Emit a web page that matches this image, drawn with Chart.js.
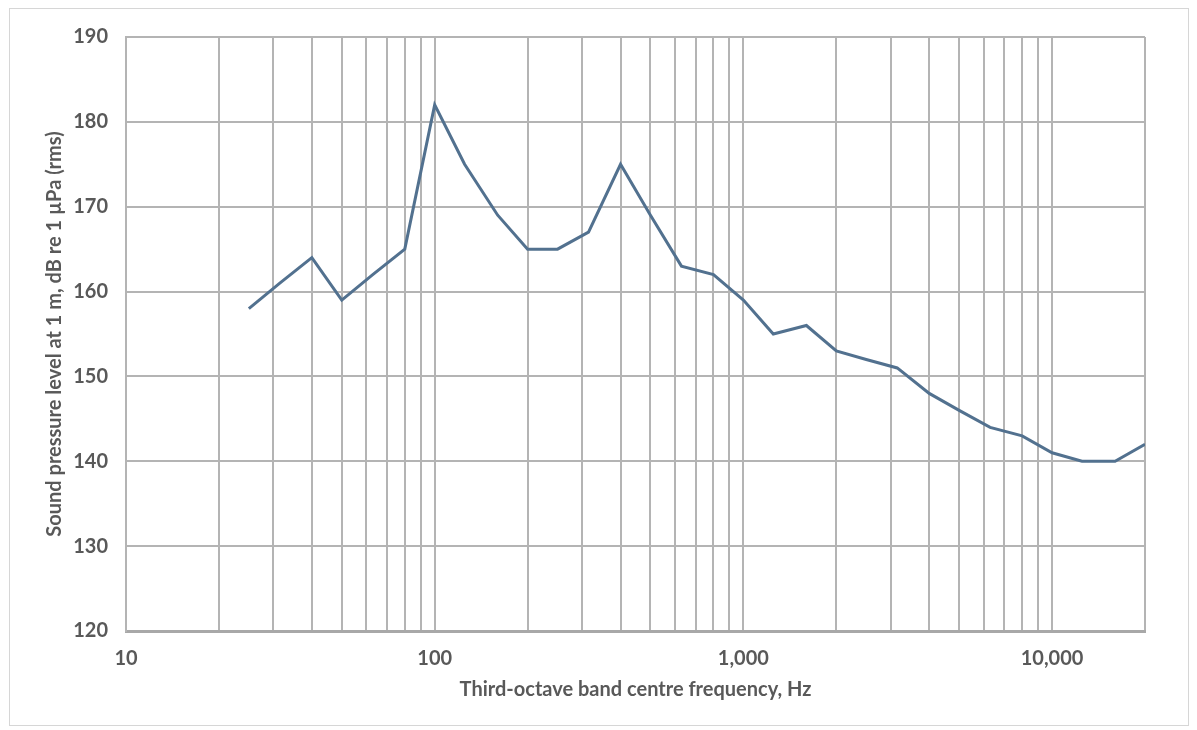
<!DOCTYPE html>
<html><head><meta charset="utf-8">
<script src="https://cdn.jsdelivr.net/npm/chart.js@4/dist/chart.umd.min.js"></script>
<style>
html,body{margin:0;padding:0;background:#fff;}
#wrap{position:relative;width:1197px;height:730px;}
#frame{position:absolute;left:9px;top:8px;width:1180px;height:718px;border:1px solid #d6d6d6;box-sizing:border-box;}
canvas{position:absolute;left:0;top:0;}
</style></head>
<body><div id="wrap"><div id="frame"></div><canvas id="c" width="1197" height="730"></canvas></div>
<script>
const frequencies = [25,31.5,40,50,63,80,100,125,160,200,250,315,400,500,630,800,1000,1250,1600,2000,2500,3150,4000,5000,6300,8000,10000,12500,16000,20000];
const splValues   = [158,161,164,159,162,165,182,175,169,165,165,167,175,169,163,162,159,155,156,153,152,151,148,146,144,143,141,140,140,142];
const xGridValues = [10,20,30,40,50,60,70,80,90,100,200,300,400,500,600,700,800,900,1000,2000,3000,4000,5000,6000,7000,8000,9000,10000,20000];
const xTickLabels = {10:'10',100:'100',1000:'1,000',10000:'10,000'};
const yTickValues = [120,130,140,150,160,170,180,190];

const gridColor = '#b4b4b4';
const textColor = '#595959';
const fontFam = 'Lato, "Open Sans", sans-serif';

new Chart(document.getElementById('c'), {
  type: 'line',
  data: {
    datasets: [{
      data: frequencies.map((f,i)=>({x:f,y:splValues[i]})),
      borderColor: '#52718f',
      borderWidth: 3,
      pointRadius: 0,
      tension: 0,
      fill: false
    }]
  },
  options: {
    responsive: false,
    animation: false,
    devicePixelRatio: 1,
    layout: {padding: {left: 0, top: 37, right: 52, bottom: 0}},
    plugins: {legend: {display: false}, tooltip: {enabled: false}},
    scales: {
      x: {
        type: 'logarithmic',
        min: 10, max: 20000,
        afterBuildTicks: s => { s.ticks = xGridValues.map(v => ({value: v})); },
        afterFit: s => { s.height = 99; },
        grid: {color: gridColor, lineWidth: 2, drawTicks: false},
        border: {color: '#a8a8a8', width: 3},
        ticks: {
          autoSkip: false, maxRotation: 0, padding: 16,
          color: textColor, font: {family: fontFam, size: 20, weight: 'bold'},
          callback: v => xTickLabels[v] || ''
        },
        title: {display: true, text: 'Third-octave band centre frequency, Hz', color: textColor,
          font: {family: fontFam, size: 20, weight: 'bold'}, padding: {top: 0, bottom: 28}}
      },
      y: {
        min: 120, max: 190,
        afterBuildTicks: s => { s.ticks = yTickValues.map(v => ({value: v})); },
        afterFit: s => { s.width = 126; },
        grid: {color: gridColor, lineWidth: 2, drawTicks: false},
        border: {color: gridColor, width: 2},
        ticks: {padding: 18, color: textColor, font: {family: fontFam, size: 20, weight: 'bold'}},
        title: {display: true, text: 'Sound pressure level at 1 m, dB re 1 µPa (rms)', color: textColor,
          font: {family: fontFam, size: 20, weight: 'bold'}, padding: {top: 43, bottom: 0}}
      }
    }
  }
});
</script></body></html>
